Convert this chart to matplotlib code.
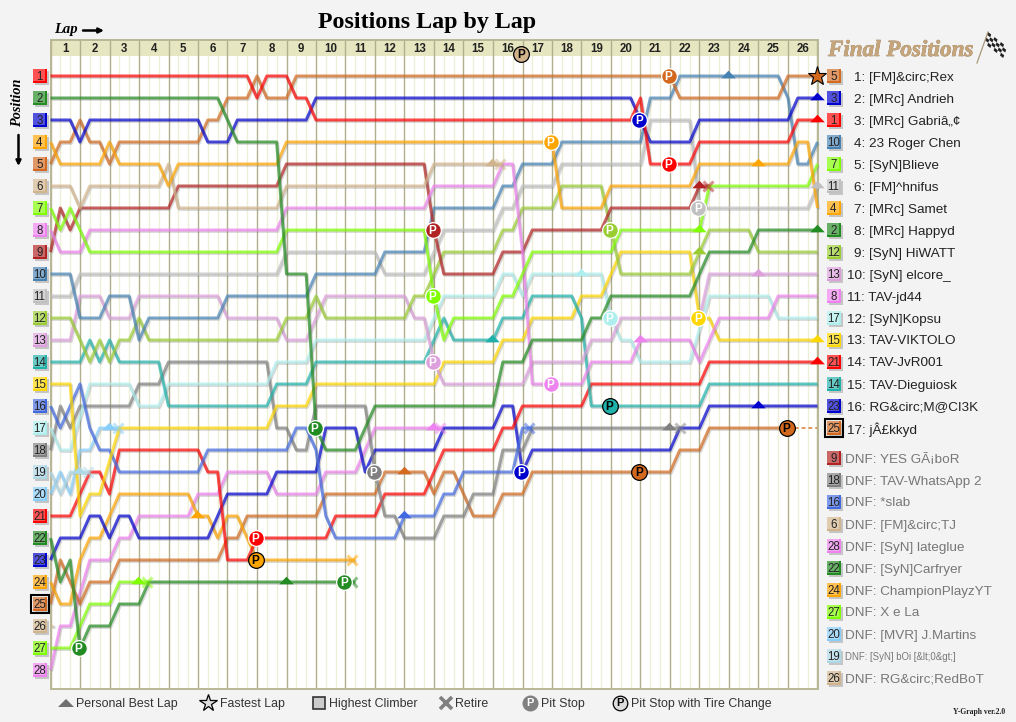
import numpy as np
import matplotlib
matplotlib.use("Agg")
import matplotlib.pyplot as plt
import matplotlib.patheffects as pe
from matplotlib.path import Path
from matplotlib.patches import Rectangle, Polygon

plt.rcParams['font.family'] = ['Liberation Sans', 'DejaVu Sans']

# Positions as (sector, position) knots; three sectors per lap
d01 = [(0,1),(20,1),(21,2),(22,1),(24,1),(25,2),(26,2),(27,3),(59,3),(60,2),(61,5),(65,5),(66,4),(75,4),(76,3),(78,3)]
d02 = [(0,2),(17,2),(18,3),(19,4),(23,4),(24,10),(26,10),(27,17),(28,18),(31,18),(33,16),(45,16),(46,14),(48,14),(49,13),(54,13),(55,12),(56,12),(57,11),(65,11),(67,9),(71,9),(72,8),(78,8)]
d03 = [(0,3),(2,3),(3,4),(4,3),(15,3),(16,4),(18,4),(19,3),(26,3),(27,2),(59,2),(60,3),(61,4),(65,4),(66,3),(75,3),(76,2),(78,2)]
d04 = [(0,4),(1,5),(5,5),(6,4),(7,5),(11,5),(12,6),(13,5),(23,5),(24,4),(51,4),(52,7),(56,7),(57,6),(65,6),(66,5),(75,5),(76,4),(77,4),(78,7)]
d05 = [(0,5),(1,4),(2,4),(3,3),(4,4),(5,4),(6,5),(7,4),(15,4),(16,3),(17,3),(18,2),(20,2),(21,1),(22,2),(24,2),(25,1),(63,1),(64,2),(74,2),(75,1),(78,1)]
d06 = [(0,6),(2,6),(3,7),(4,6),(11,6),(12,5),(13,7),(23,7),(24,6),(38,6),(39,5),(46,5)]
d07 = [(0,7),(1,8),(2,7),(3,8),(4,9),(23,9),(24,8),(38,8),(39,11),(40,13),(41,12),(45,12),(46,11),(47,11),(49,9),(57,9),(58,8),(66,8),(67,6),(77,6),(78,5)]
d08 = [(0,8),(1,9),(3,9),(4,8),(23,8),(24,7),(38,7),(39,6),(45,6),(46,5),(47,5),(48,9),(49,15),(54,15),(55,14),(59,14),(60,13),(65,13),(66,14),(68,12),(73,12),(74,11),(78,11)]
d09 = [(0,9),(1,7),(2,8),(3,7),(12,7),(13,6),(23,6),(24,5),(38,5),(39,8),(40,10),(45,10),(46,9),(48,9),(49,8),(56,8),(57,7),(65,7),(66,6),(67,6)]
d10 = [(0,10),(2,10),(3,12),(5,12),(6,11),(8,11),(9,13),(10,12),(17,12),(18,11),(26,11),(27,10),(33,10),(34,9),(38,9),(39,7),(45,7),(46,6),(47,6),(48,5),(51,5),(52,4),(60,4),(61,2),(63,2),(64,1),(74,1),(75,2),(76,5),(77,5),(78,4)]
d11 = [(0,11),(2,11),(3,10),(23,10),(24,9),(33,9),(34,10),(38,10),(40,8),(45,8),(46,7),(47,7),(48,6),(51,6),(52,5),(60,5),(61,3),(65,3),(66,7),(77,7),(78,6)]
d12 = [(0,12),(2,12),(3,13),(4,14),(5,13),(6,14),(7,13),(8,13),(9,12),(10,13),(23,13),(24,12),(26,12),(27,11),(28,12),(36,12),(37,11),(38,11),(40,9),(45,9),(46,8),(47,8),(48,7),(51,7),(52,6),(56,6),(57,8),(58,10),(65,10),(66,9),(67,8),(71,8),(72,9),(78,9)]
d13 = [(0,13),(2,13),(3,11),(5,11),(6,12),(8,12),(9,11),(17,11),(18,12),(23,12),(24,13),(26,13),(28,11),(36,11),(37,12),(38,12),(39,14),(40,15),(48,15),(49,14),(54,14),(55,13),(57,13),(58,12),(66,12),(67,10),(78,10)]
d14 = [(0,14),(3,14),(4,13),(5,14),(6,13),(7,14),(11,14),(12,16),(22,16),(23,15),(26,15),(27,14),(38,14),(40,12),(41,13),(45,13),(46,12),(48,12),(49,11),(53,11),(54,12),(55,16),(66,16),(67,15),(78,15)]
d15 = [(0,15),(2,15),(3,21),(4,20),(5,20),(7,17),(22,17),(23,16),(26,16),(27,15),(39,15),(40,14),(45,14),(46,13),(48,13),(49,12),(53,12),(54,11),(56,11),(58,9),(65,9),(66,12),(67,12),(68,13),(78,13)]
d16 = [(0,16),(1,17),(3,15),(4,17),(5,18),(6,18),(7,19),(15,19),(16,18),(24,18),(25,17),(26,17),(27,18),(28,21),(29,22),(35,22),(36,21),(39,21),(40,20),(41,20),(42,19),(47,19),(48,17),(49,17)]
d17 = [(0,17),(1,18),(2,18),(4,15),(8,15),(9,16),(11,16),(12,15),(22,15),(23,14),(26,14),(27,13),(38,13),(40,11),(45,11),(46,10),(47,10),(48,11),(49,10),(56,10),(57,12),(58,13),(59,13),(60,14),(65,14),(67,11),(73,11),(74,12),(78,12)]
d18 = [(0,18),(1,16),(2,17),(3,16),(8,16),(9,15),(11,15),(12,14),(22,14),(23,17),(24,17),(25,18),(26,18),(27,16),(32,16),(33,19),(34,21),(35,21),(36,22),(39,22),(40,21),(42,21),(43,20),(45,20),(46,18),(48,18),(49,17),(64,17)]
d19 = [(0,19),(1,20),(2,19),(4,19)]
d20 = [(0,20),(1,19),(2,20),(3,18),(4,18),(5,17),(7,17)]
d21 = [(0,21),(2,21),(3,20),(4,19),(5,19),(6,20),(7,18),(15,18),(16,19),(17,19),(18,23),(20,23),(21,22),(28,22),(29,21),(33,21),(34,20),(38,20),(40,18),(45,18),(46,17),(47,17),(48,16),(54,16),(55,15),(66,15),(67,14),(78,14)]
d22 = [(0,22),(1,24),(2,23),(3,27),(4,26),(6,26),(7,25),(9,25),(10,24),(31,24)]
d23 = [(0,23),(1,22),(3,22),(4,21),(5,21),(6,22),(7,21),(8,21),(9,22),(16,22),(18,20),(22,20),(23,19),(27,19),(28,17),(31,17),(32,19),(33,18),(39,18),(40,17),(45,17),(46,16),(47,16),(48,19),(49,18),(63,18),(64,17),(66,17),(67,16),(78,16)]
d24 = [(0,24),(1,25),(2,25),(3,23),(4,22),(5,22),(6,21),(7,20),(14,20),(15,21),(16,21),(17,22),(18,21),(19,21),(21,23),(31,23)]
d25 = [(0,25),(1,23),(2,24),(3,25),(4,24),(6,24),(7,23),(17,23),(18,22),(19,22),(20,21),(27,21),(28,20),(33,20),(34,19),(38,19),(39,20),(40,19),(41,19),(43,21),(45,21),(46,20),(48,20),(49,19),(63,19),(64,18),(66,18),(67,17),(75,17)]
d26 = [(0,26),(0.3,26)]
d27 = [(0,27),(2,27),(4,25),(6,25),(7,24),(10,24)]
d28 = [(0,28),(1,26),(2,26),(4,23),(6,23),(7,22),(8,22),(9,21),(14,21),(15,20),(17,20),(18,19),(22,19),(23,20),(27,20),(28,19),(31,19),(33,17),(40,17)]
all_drivers = [d01,d02,d03,d04,d05,d06,d07,d08,d09,d10,d11,d12,d13,d14,d15,d16,d17,d18,d19,d20,d21,d22,d23,d24,d25,d26,d27,d28]

colors = ['#ff0000','#228b22','#0000cd','#ffa500','#d2691e','#d2b48c','#7fff00','#ee82ee','#b22222','#4682b4',
          '#c0c0c0','#9acd32','#dda0dd','#20b2aa','#ffd700','#4169e1','#afeeee','#808080','#add8e6','#87cefa',
          '#ff0000','#228b22','#0000cd','#ffa500','#d2691e','#d2b48c','#7fff00','#ee82ee']

final_order = [5,3,1,10,7,11,4,2,12,13,8,17,15,21,14,23,25]
final_names = ['1: [FM]&circ;Rex','2: [MRc] Andrieh','3: [MRc] Gabriâ„¢','4: 23 Roger Chen','5: [SyN]Blieve',
               '6: [FM]^hnifus','7: [MRc] Samet','8: [MRc] Happyd','9: [SyN] HiWATT','10: [SyN] elcore_',
               '11: TAV-jd44','12: [SyN]Kopsu','13: TAV-VIKTOLO','14: TAV-JvR001','15: TAV-Dieguiosk',
               '16: RG&circ;M@CI3K','17: jÂ£kkyd']
dnf_order = [9,18,16,6,28,22,24,27,20,19,26]
dnf_names = ['DNF: YES GÃ¡boR','DNF: TAV-WhatsApp 2','DNF: *slab','DNF: [FM]&circ;TJ','DNF: [SyN] lateglue',
             'DNF: [SyN]Carfryer','DNF: ChampionPlayzYT','DNF: X e La','DNF: [MVR] J.Martins',
             'DNF: [SyN] bOi [&lt;0&gt;]','DNF: RG&circ;RedBoT']

# (driver, sector)
pit_stops = [(5,63),(3,60),(1,63),(4,51),(9,39),(12,57),(11,66),(7,39),(17,57),(15,66),(13,39),(8,51),(2,27),(23,48),(18,33),(21,21),(22,3),(22,30)]
tire_stops = [(14,57),(25,60),(25,75),(24,21)]
header_tire_stops = [(26,48)]
best_laps = [(10,69),(6,45),(25,36),(16,36),(28,39),(14,45),(22,24),(27,9),(24,15),(20,6),(19,3),(17,54),(8,60),
             (13,72),(4,72),(9,66),(7,66),(12,66),(18,63),(23,72),(3,78),(1,78),(2,78),(11,78),(15,78),(21,78)]
fastest_lap = (5,78)
retires = [(6,45.7),(28,39.6),(16,48.7),(18,64),(9,66.9),(27,9.8),(20,6.9),(19,3.8),(24,30.7),(22,30.7)]
n_laps = 26

W, H = 1016, 722
BG = '#f3f3f3'
fig = plt.figure(figsize=(W/100, H/100), dpi=100, facecolor=BG)
L, R, T, B = 50.5, 817.5, 39.5, 689
ax = fig.add_axes([L/W, 1-B/H, (R-L)/W, (B-T)/H], facecolor='white')
ax.set_xlim(0, 3*n_laps)
r0 = lambda y: 1+(y-76)/22
ax.set_ylim(r0(B), r0(T))
ax.set_xticks([]); ax.set_yticks([])
for sp in ax.spines.values():
    sp.set_color('#b8b896'); sp.set_linewidth(1.4)
header_bottom = r0(56)
ax.axhspan(r0(T), header_bottom, color='#e6e6c0', lw=0, zorder=0.5)
for s in range(0, 3*n_laps+1):
    if s % 3 == 0:
        ax.plot([s, s], [r0(T), r0(B)], color='#b0b08e', lw=1, zorder=1)
    else:
        ax.plot([s, s], [header_bottom, r0(B)], color='#efefd8', lw=1, zorder=1)
for i in range(n_laps):
    ax.text(3*i+1.5, r0(49.5), str(i+1), ha='center', va='center', fontsize=8.3, fontweight='bold', color='#222222', zorder=2)

def row_at(d, s):
    k = np.array(all_drivers[d-1], float)
    return float(np.interp(s, k[:, 0], k[:, 1]))

shadow = [pe.SimpleLineShadow(offset=(0.8, -1.0), shadow_color='#777777', alpha=0.28), pe.Normal()]
for d in list(range(1, 29))[::-1]:
    k = np.array(all_drivers[d-1], float)
    ax.plot(k[:, 0], k[:, 1], color=colors[d-1], lw=2.2, alpha=0.7, solid_joinstyle='round',
            solid_capstyle='butt', path_effects=shadow, zorder=3+0.01*(29-d), clip_on=False)
# dotted tail of the last car
ax.plot([75, 78], [17, 17], color=colors[24], lw=1.4, ls=(0, (2, 1.5)), alpha=0.7, zorder=3)

tri = Path([(-1, -0.25), (1, -0.25), (0, 0.8), (-1, -0.25)], closed=True)
for d, s in best_laps:
    ax.plot([s-0.1], [row_at(d, s)], marker=tri, ms=10.5, color=colors[d-1], mew=0, ls='none', zorder=5, clip_on=False)
for d, s in retires:
    ax.plot([s], [row_at(d, min(s, all_drivers[d-1][-1][0]))], marker='x', ms=7, mew=2.2, color=colors[d-1], alpha=0.5, ls='none', zorder=5)
ds, ss = fastest_lap
ax.plot([ss], [row_at(ds, ss)], marker='*', ms=14, mfc=colors[ds-1], mec='black', mew=0.8, ls='none', zorder=7, clip_on=False)

def pit(s, row, c, tc, ec):
    ax.plot([s-0.15], [row], marker='o', ms=11.3, mfc=c, mec=ec, mew=0.9, ls='none', zorder=8, clip_on=False)
    ax.text(s-0.15, row+0.04, 'P', ha='center', va='center', fontsize=8.5, fontweight='bold', color=tc, zorder=9)
for d, s in pit_stops:
    pit(s, row_at(d, s), colors[d-1], 'white', 'white')
for d, s in tire_stops:
    pit(s, row_at(d, s), colors[d-1], 'black', 'black')
for d, s in header_tire_stops:
    pit(s, r0(54), colors[d-1], 'black', 'black')

# overlay in pixel space
ov = fig.add_axes([0, 0, 1, 1], facecolor='none', zorder=10)
ov.set_xlim(0, W); ov.set_ylim(H, 0); ov.axis('off')

def badge(x, y, num, col, outline=False):
    ov.add_patch(Rectangle((x+1.5, y-5.5), 14, 14, fc='#999999', alpha=0.5, lw=0))
    ov.add_patch(Rectangle((x, y-7), 14, 14, fc=col, lw=0))
    ov.add_patch(Rectangle((x, y-7), 12, 12, fc='white', alpha=0.32, lw=0))
    if outline:
        ov.add_patch(Rectangle((x-2, y-9), 18, 18, fc='none', ec='black', lw=1.5))
    ov.text(x+6.5, y+0.5, str(num), ha='center', va='center', fontsize=8.3, color='#222222')

for i in range(28):
    badge(33, 76+22*i, i+1, colors[i], outline=(i == 24))
for i, (d, name) in enumerate(zip(final_order, final_names)):
    y = 76+22*i
    badge(827, y, d, colors[d-1], outline=(d == 25))
    ov.text(854 if i < 9 else 847, y+1.5, name, ha='left', va='center', fontsize=9.7, color='#222222')
for i, (d, name) in enumerate(zip(dnf_order, dnf_names)):
    y = 458+22*i
    badge(827, y, d, colors[d-1])
    small = name.startswith('DNF: [SyN] bOi')
    ov.text(845, y+1.5, name, ha='left', va='center', fontsize=6.9 if small else 9.7, color='#777777')

serif = ['Liberation Serif', 'DejaVu Serif']
ov.text(427.5, 22.5, 'Positions Lap by Lap', ha='center', va='center', fontsize=17.3, fontweight='bold', family=serif, color='black')
ov.text(54, 29, 'Lap', ha='left', va='center', fontsize=10.5, fontweight='bold', style='italic', family=serif)
ov.annotate('', xy=(104, 30.5), xytext=(83, 30.5), arrowprops=dict(arrowstyle='-|>', color='black', lw=1.8, mutation_scale=7, shrinkA=0, shrinkB=0))
ov.text(18, 103, 'Position', ha='center', va='center', rotation=90, fontsize=10.3, fontweight='bold', style='italic', family=serif)
ov.annotate('', xy=(18.5, 166), xytext=(18.5, 135), arrowprops=dict(arrowstyle='-|>', color='black', lw=1.8, mutation_scale=7, shrinkA=0, shrinkB=0))

ov.text(828, 50.5, 'Final Positions', ha='left', va='center', fontsize=16.6, fontweight='bold', style='italic', family=serif,
        color='#c4a57c', path_effects=[pe.SimpleLineShadow(offset=(0.8, -0.8), shadow_color='#888888', alpha=0.6), pe.withStroke(linewidth=0.4, foreground='#8a6f4c'), pe.Normal()])

# checkered flag
origin = np.array([988.0, 32.0]); u = np.array([3.2, 2.5]); v = np.array([-1.0, 2.75])
ov.plot([977, 988], [63, 32], color='#a89878', lw=0.9)
for a in range(6):
    for b in range(4):
        if (a+b) % 2 == 0:
            pts = [origin+a*u+b*v, origin+(a+1)*u+b*v, origin+(a+1)*u+(b+1)*v, origin+a*u+(b+1)*v]
            ov.add_patch(Polygon(pts, fc='#222222', lw=0))

# legend strip
ly = 703
ov.add_patch(Polygon([(58, ly+4), (74, ly+4), (66, ly-4)], fc='#707070', lw=0))
ov.text(76, ly+1, 'Personal Best Lap', ha='left', va='center', fontsize=8.9, color='#333333')
ov.plot([208], [ly], marker='*', ms=13, mfc='#dddddd', mec='black', mew=0.9, ls='none')
ov.text(220, ly+1, 'Fastest Lap', ha='left', va='center', fontsize=8.9, color='#333333')
ov.add_patch(Rectangle((313, ly-6), 12, 12, fc='#cccccc', ec='#333333', lw=1.2))
ov.text(329, ly+1, 'Highest Climber', ha='left', va='center', fontsize=8.9, color='#333333')
ov.plot([446], [ly], marker='x', ms=8, mew=2.6, color='#808080', ls='none')
ov.text(455, ly+1, 'Retire', ha='left', va='center', fontsize=8.9, color='#333333')
ov.plot([530], [ly], marker='o', ms=10.5, mfc='#808080', mec='#808080', ls='none')
ov.text(530, ly+0.5, 'P', ha='center', va='center', fontsize=8, fontweight='bold', color='white')
ov.text(541, ly+1, 'Pit Stop', ha='left', va='center', fontsize=8.9, color='#333333')
ov.plot([620], [ly], marker='o', ms=10.5, mfc='#dddddd', mec='black', mew=0.9, ls='none')
ov.text(620, ly+0.5, 'P', ha='center', va='center', fontsize=8, fontweight='bold', color='black')
ov.text(631, ly+1, 'Pit Stop with Tire Change', ha='left', va='center', fontsize=8.9, color='#333333')
ov.text(1005, 712.5, 'Y-Graph ver.2.0', ha='right', va='center', fontsize=5.5, fontweight='bold', family=serif, color='#222222')

fig.savefig('out.png', dpi=100, facecolor=BG)
